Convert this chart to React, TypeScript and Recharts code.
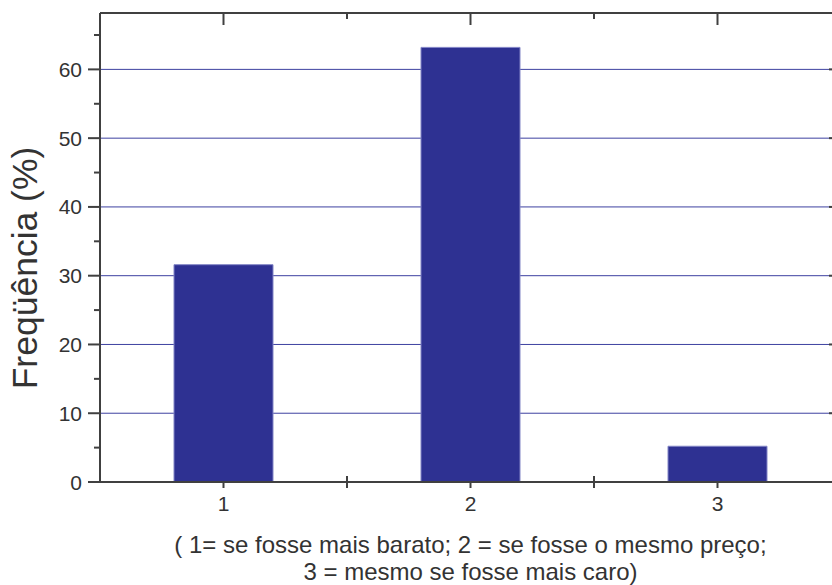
import React from 'react';
import { BarChart, Bar, XAxis, YAxis, CartesianGrid, Label } from 'recharts';

const categories = [1, 2, 3];
const frequencies = [31.6, 63.2, 5.2];
const xTicks = [1, 1.5, 2, 2.5, 3];
const yTicks = [0, 5, 10, 15, 20, 25, 30, 35, 40, 45, 50, 55, 60, 65];
const gridValues = [10, 20, 30, 40, 50, 60];
const yLabel = 'Freqüência (%)';
const captionLines = [
  '( 1= se fosse mais barato; 2 = se fosse o mesmo preço;',
  '3 = mesmo se fosse mais caro)',
];

const data = categories.map((c, i) => ({ cat: c, value: frequencies[i] }));

const FONT = '"Liberation Sans", Arial, Helvetica, sans-serif';
const AXIS = '#404040';
const TEXT = '#333333';

const isMajorX = (v: number) => Number.isInteger(v);
const isMajorY = (v: number) => v % 10 === 0;

const BottomTick = (props: any) => {
  const { x, y, payload } = props;
  const v = payload.value;
  if (isMajorX(v)) {
    return (
      <g>
        <line x1={x} x2={x} y1={y} y2={y + 6} stroke={AXIS} strokeWidth={2} />
        <text x={x} y={y + 21} textAnchor="middle" dominantBaseline="central" fontSize={21} fill={TEXT} fontFamily={FONT}>
          {v}
        </text>
      </g>
    );
  }
  return <line x1={x} x2={x} y1={y - 6} y2={y + 6} stroke={AXIS} strokeWidth={2} />;
};

const TopTick = (props: any) => {
  const { x, y, payload } = props;
  const len = isMajorX(payload.value) ? 12 : 6;
  return <line x1={x} x2={x} y1={y} y2={y + len} stroke={AXIS} strokeWidth={2} />;
};

const LeftTick = (props: any) => {
  const { x, y, payload } = props;
  const v = payload.value;
  if (isMajorY(v)) {
    return (
      <g>
        <line x1={x - 12} x2={x} y1={y} y2={y} stroke={AXIS} strokeWidth={2} />
        <text x={x - 18} y={y} textAnchor="end" dominantBaseline="central" fontSize={21} fill={TEXT} fontFamily={FONT}>
          {v}
        </text>
      </g>
    );
  }
  return <line x1={x - 6} x2={x} y1={y} y2={y} stroke={AXIS} strokeWidth={2} />;
};

const RightTick = (props: any) => {
  const { x, y, payload } = props;
  const len = isMajorY(payload.value) ? 12 : 6;
  return <line x1={x - len} x2={x} y1={y} y2={y} stroke={AXIS} strokeWidth={2} />;
};

export default function App() {
  return (
    <div style={{ position: 'fixed', left: 0, top: 0, width: 832, height: 585, overflow: 'hidden', background: '#fff' }}>
      <BarChart width={900} height={585} data={data} margin={{ top: 0, right: 0, bottom: 0, left: 0 }}>
        <CartesianGrid
          vertical={false}
          horizontal
          horizontalValues={gridValues}
          stroke="#3d41a0"
          strokeWidth={1}
          strokeDasharray=""
        />
        <XAxis
          dataKey="cat"
          type="number"
          domain={[0.5, 3.5]}
          ticks={xTicks}
          interval={0}
          allowDataOverflow
          height={103}
          tickSize={0}
          tickMargin={0}
          tickLine={false}
          axisLine={{ stroke: AXIS, strokeWidth: 2 }}
          tick={<BottomTick />}
        >
          <Label
            content={(p: any) => {
              const vb = p.viewBox;
              const cx = vb.x + vb.width / 2;
              return (
                <g>
                  {captionLines.map((t, i) => (
                    <text key={i} x={cx} y={vb.y + 62 + i * 27} textAnchor="middle" dominantBaseline="central" fontSize={24} fill={TEXT} fontFamily={FONT}>
                      {t}
                    </text>
                  ))}
                </g>
              );
            }}
          />
        </XAxis>
        <XAxis
          xAxisId="top"
          orientation="top"
          dataKey="cat"
          type="number"
          domain={[0.5, 3.5]}
          ticks={xTicks}
          interval={0}
          allowDataOverflow
          height={13}
          tickSize={0}
          tickMargin={0}
          tickLine={false}
          axisLine={{ stroke: AXIS, strokeWidth: 2 }}
          tick={<TopTick />}
        />
        <YAxis
          type="number"
          domain={[0, 68.2]}
          ticks={yTicks}
          interval={0}
          allowDataOverflow
          width={100}
          tickSize={0}
          tickMargin={0}
          tickLine={false}
          axisLine={{ stroke: AXIS, strokeWidth: 2 }}
          tick={<LeftTick />}
        >
          <Label
            content={() => {
              const cx = 25;
              const cy = 268;
              return (
                <text x={cx} y={cy} transform={`rotate(-90, ${cx}, ${cy})`} textAnchor="middle" dominantBaseline="central" fontSize={35.5} fill={TEXT} fontFamily={FONT}>
                  {yLabel}
                </text>
              );
            }}
          />
        </YAxis>
        <YAxis
          yAxisId="right"
          orientation="right"
          type="number"
          domain={[0, 68.2]}
          ticks={yTicks}
          interval={0}
          allowDataOverflow
          width={59}
          tickSize={0}
          tickMargin={0}
          tickLine={false}
          axisLine={{ stroke: AXIS, strokeWidth: 2 }}
          tick={<RightTick />}
        />
        <Bar dataKey="value" barSize={99} fill="#2e3192" stroke="#8285c6" strokeWidth={1} isAnimationActive={false} />
      </BarChart>
    </div>
  );
}
